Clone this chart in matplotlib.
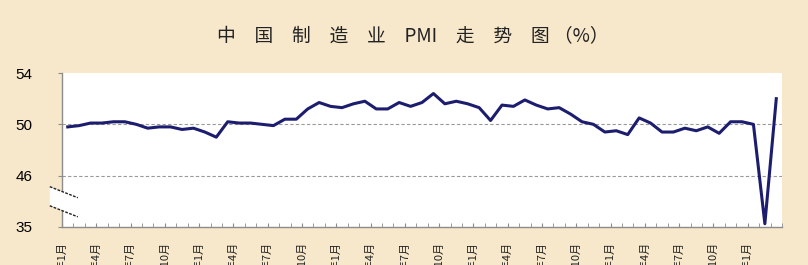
import matplotlib

matplotlib.use("Agg")

import matplotlib.pyplot as plt
import numpy as np
import pandas as pd
from matplotlib.patches import Polygon
from matplotlib.transforms import ScaledTranslation

BG = "#f7e8cb"
NAVY = "#1d1d6f"
GRAY = "#8c8c8c"

# China manufacturing PMI, monthly, Jan 2015 .. Mar 2020
months = pd.period_range("2015-01", "2020-03", freq="M")
pmi = [
    49.8, 49.9, 50.1, 50.1, 50.2, 50.2, 50.0, 49.7, 49.8, 49.8, 49.6, 49.7,
    49.4, 49.0, 50.2, 50.1, 50.1, 50.0, 49.9, 50.4, 50.4, 51.2, 51.7, 51.4,
    51.3, 51.6, 51.8, 51.2, 51.2, 51.7, 51.4, 51.7, 52.4, 51.6, 51.8, 51.6,
    51.3, 50.3, 51.5, 51.4, 51.9, 51.5, 51.2, 51.3, 50.8, 50.2, 50.0, 49.4,
    49.5, 49.2, 50.5, 50.1, 49.4, 49.4, 49.7, 49.5, 49.8, 49.3, 50.2, 50.2,
    50.0, 35.7, 52.0,
]
y_ticks = [35, 46, 50, 54]
grid_levels = [46, 50]

# broken axis: everything below 46 is squeezed into 4 units
BREAK = 46.0
SQUEEZE = 4.0 / 11.0


def _fwd(v):
    v = np.asarray(v, dtype=float)
    return np.where(v >= BREAK, v, BREAK - (BREAK - v) * SQUEEZE)


def _inv(t):
    t = np.asarray(t, dtype=float)
    return np.where(t >= BREAK, t, BREAK - (BREAK - t) / SQUEEZE)


fig = plt.figure(figsize=(8.08, 2.65), dpi=100, facecolor=BG)
ax = fig.add_axes([62 / 808, 1 - 227 / 265, 720 / 808, 154 / 265])
ax.set_facecolor("white")

x = np.arange(len(pmi))
ax.plot(x, pmi, color=NAVY, linewidth=2.2, solid_joinstyle="round", zorder=3)

ax.set_yscale("function", functions=(_fwd, _inv))
ax.set_ylim(35, 54)
ax.set_yticks(y_ticks)
ax.set_yticklabels([str(t) for t in y_ticks], fontsize=11, family="Liberation Sans")
ax.yaxis.set_minor_locator(matplotlib.ticker.NullLocator())
for lvl in grid_levels:
    ax.axhline(lvl, color="#9a9a9a", linestyle=(0, (3, 2)), linewidth=0.8, zorder=1)

ax.set_xlim(-0.5, len(pmi) - 0.5)
edges = np.arange(len(pmi) + 1) - 0.5
major = edges[::3][: len(months[::3])]
ax.set_xticks(major)
ax.set_xticklabels([f"{p.year}年{p.month}月" for p in months[::3]],
                   rotation=90, fontsize=8, family=["Noto Sans CJK SC", "DejaVu Sans"],
                   va="top", ha="center", color="#222222")
shift = ScaledTranslation(3 / 100, 0, fig.dpi_scale_trans)
for lab in ax.get_xticklabels():
    lab.set_transform(lab.get_transform() + shift)
ax.set_xticks(edges, minor=True)
ax.tick_params(axis="x", which="both", direction="in", length=3, color=GRAY, pad=10.5)
ax.tick_params(axis="y", direction="out", length=3, color=GRAY, pad=18)

for side in ("top", "right"):
    ax.spines[side].set_visible(False)
for side in ("left", "bottom"):
    ax.spines[side].set_color(GRAY)
    ax.spines[side].set_linewidth(1.0)

# axis break marks
tr = ax.transAxes
x0, x1 = -0.017, 0.022
top = [(x0, 0.262), (x1, 0.19)]
bot = [(x0, 0.138), (x1, 0.066)]
ax.add_patch(Polygon([top[0], top[1], bot[1], bot[0]], closed=True, transform=tr,
                     facecolor="white", edgecolor="none", clip_on=False, zorder=4))
for seg in (top, bot):
    ax.plot([p[0] for p in seg], [p[1] for p in seg], transform=tr, color="#222222",
            linestyle=(0, (2, 1)), linewidth=1.0, clip_on=False, zorder=5)

fig.text(0.511, 0.86, "中　国　制　造　业　PMI　走　势　图 （%）", ha="center", va="center",
         fontsize=13.5, family=["Noto Sans CJK SC", "DejaVu Sans"], color="#222222")

fig.savefig("out.png", dpi=100, facecolor=BG)
